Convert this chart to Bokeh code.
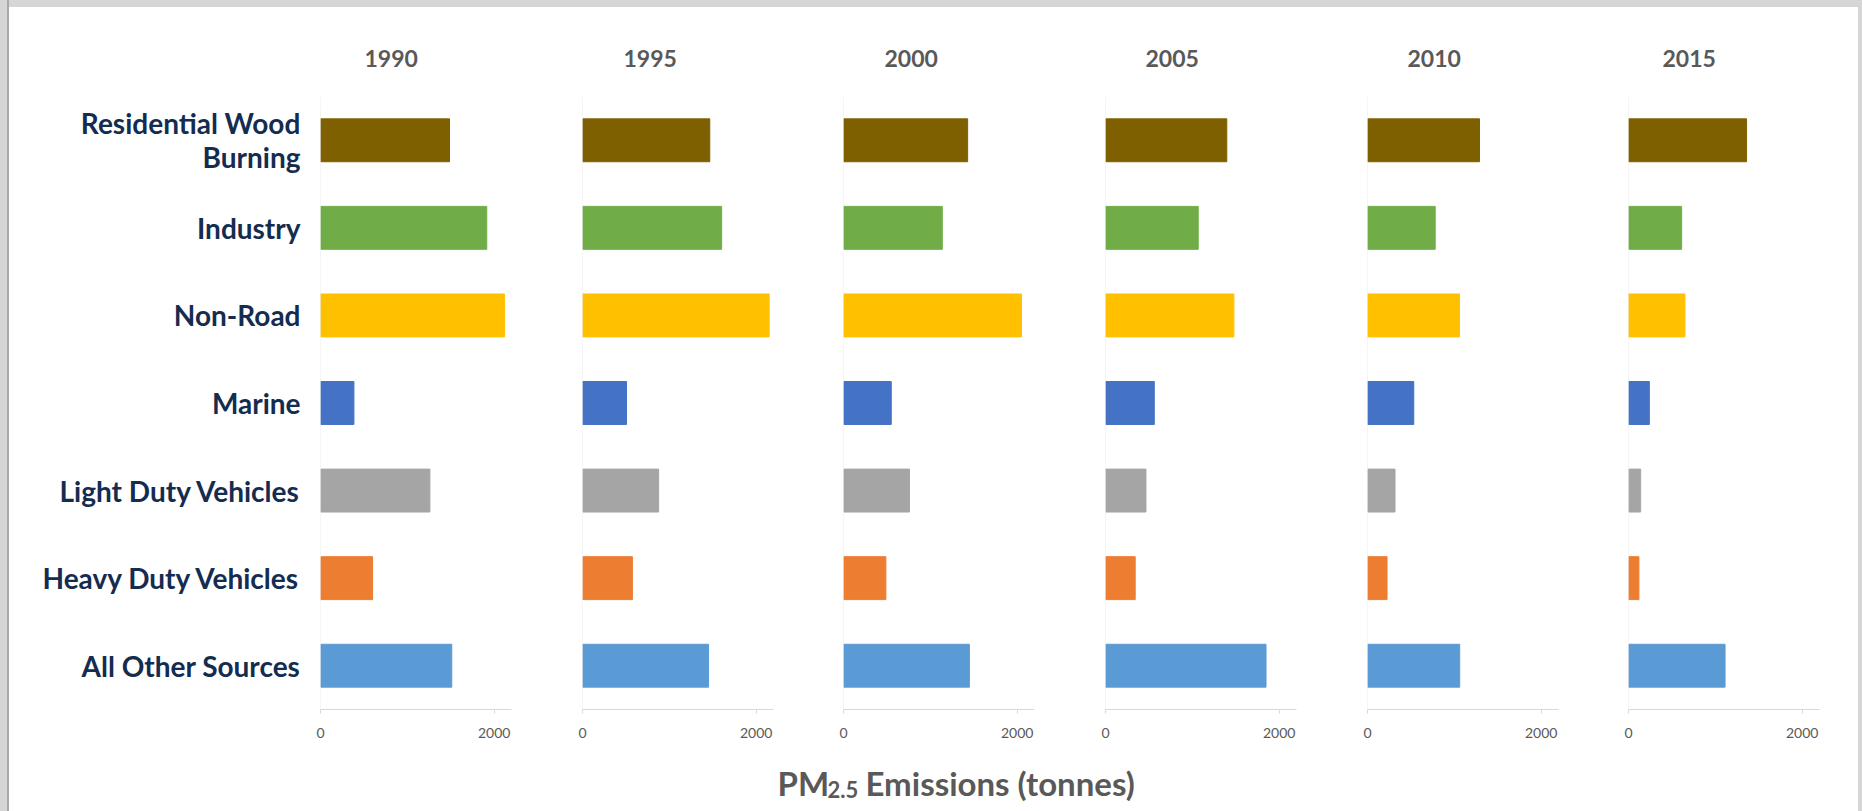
from bokeh.plotting import figure
from bokeh.layouts import row, column
from bokeh.models import ColumnDataSource, FactorRange, Range1d, FixedTicker, Span, Title
from bokeh.embed import file_html
from bokeh.resources import INLINE
from bokeh.core.properties import value

# ---------------- data ----------------
years = ["1990", "1995", "2000", "2005", "2010", "2015"]
categories = ["Residential Wood Burning", "Industry", "Non-Road", "Marine",
              "Light Duty Vehicles", "Heavy Duty Vehicles", "All Other Sources"]
category_labels = ["Residential Wood\nBurning", "Industry", "Non-Road", "Marine",
                   "Light Duty Vehicles", "Heavy Duty Vehicles", "All Other Sources"]
colors = ["#7f6000", "#70ad47", "#ffc000", "#4472c4", "#a5a5a5", "#ed7d31", "#5b9bd5"]

pm_1990 = [1486, 1915, 2120, 385, 1260, 600, 1512]
pm_1995 = [1466, 1603, 2150, 507, 877, 575, 1452]
pm_2000 = [1430, 1138, 2050, 550, 760, 488, 1450]
pm_2005 = [1397, 1068, 1479, 562, 466, 342, 1849]
pm_2010 = [1290, 780, 1060, 533, 317, 225, 1062]
pm_2015 = [1360, 612, 650, 240, 140, 120, 1112]
series = [pm_1990, pm_1995, pm_2000, pm_2005, pm_2010, pm_2015]

x_ticks = [0, 2000]
x_max = 2200
x_label_main = "PM"
x_label_sub = "2.5"
x_label_rest = "Emissions (tonnes)"

# ---------------- style ----------------
FONT = "Lato"
GRAY = "#595959"
NAVY = "#142c50"
FRAME_W = 191
FRAME_H = 613
TOP = 89
BOTTOM = 41
LABEL_W = 299
lefts = [12, 35, 35, 35, 35, 35]
rights = [36, 35, 36, 36, 35, 38]
title_offsets = [44, 41, 41, 40, 40, 34]

factors = list(reversed(categories))
y_range = FactorRange(*factors, range_padding=0)

# ---- left strip with the category names ----
lab_y, lab_txt, lab_off = [], [], []
for cat, lab in zip(categories, category_labels):
    lines = lab.split("\n")
    n = len(lines)
    for k, line in enumerate(lines):
        lab_y.append(cat)
        lab_txt.append(line)
        lab_off.append((k - (n - 1) / 2) * 34)

f0 = figure(width=LABEL_W, height=TOP + FRAME_H + BOTTOM, y_range=y_range,
            x_range=Range1d(0, LABEL_W), output_backend="svg", toolbar_location=None,
            x_axis_location=None, y_axis_location=None,
            min_border_left=0, min_border_right=0, min_border_top=TOP, min_border_bottom=BOTTOM)
f0.grid.visible = False
f0.outline_line_color = None
f0.border_fill_color = "white"
f0.text(x=LABEL_W - 8, y="y", text="t", y_offset="o",
        source=ColumnDataSource(dict(y=lab_y, t=lab_txt, o=lab_off)),
        text_font=value(FONT), text_font_size="28px", text_font_style="bold",
        text_color=NAVY, text_align="right", text_baseline="middle")

figs = [f0]
for i, (yr, vals) in enumerate(zip(years, series)):
    w = lefts[i] + FRAME_W + rights[i]
    p = figure(width=w, height=TOP + FRAME_H + BOTTOM, y_range=y_range,
               x_range=Range1d(0, x_max),
               output_backend="svg", toolbar_location=None,
               min_border_left=lefts[i], min_border_right=rights[i],
               min_border_top=TOP, min_border_bottom=BOTTOM)
    src = ColumnDataSource(dict(cat=categories, val=vals, color=colors))
    p.hbar(y="cat", left=0, right="val", height=0.49, color="color", source=src)
    p.add_layout(Span(location=0, dimension="height", line_color="#ececec", line_width=1))

    t = Title(text=yr, align="left", offset=title_offsets[i], standoff=60,
              text_font=FONT, text_font_size="23px", text_font_style="bold",
              text_color=GRAY)
    p.add_layout(t, "above")

    p.xgrid.visible = False
    p.ygrid.visible = False
    p.outline_line_color = None
    p.background_fill_color = "white"
    p.border_fill_color = "white"

    xa = p.xaxis[0]
    xa.ticker = FixedTicker(ticks=x_ticks)
    xa.axis_line_color = "#d9d9d9"
    xa.major_tick_line_color = "#d9d9d9"
    xa.major_tick_out = 4
    xa.major_tick_in = 0
    xa.minor_tick_line_color = None
    xa.major_label_text_font = FONT
    xa.major_label_text_font_size = "14px"
    xa.major_label_text_color = GRAY
    xa.major_label_standoff = 14

    p.yaxis.visible = False
    figs.append(p)

# bottom strip with the x-axis title
LW, LH = 1849, 61
lab = figure(width=LW, height=LH, x_range=Range1d(0, LW), y_range=Range1d(0, LH),
             output_backend="svg", toolbar_location=None,
             x_axis_location=None, y_axis_location=None,
             min_border_left=0, min_border_right=0, min_border_top=0, min_border_bottom=0)
lab.grid.visible = False
lab.outline_line_color = None
lab.border_fill_color = "white"
x0 = 768
base = 29
lab.text(x=[x0], y=[base], text=[x_label_main], text_font=value(FONT), text_font_size="33px",
         text_font_style="bold", text_color=GRAY, text_align="left", text_baseline="alphabetic")
lab.text(x=[x0 + 50], y=[base - 7], text=[x_label_sub], text_font=value(FONT), text_font_size="22px",
         text_font_style="bold", text_color=GRAY, text_align="left", text_baseline="alphabetic")
lab.text(x=[x0 + 50 + 38], y=[base], text=[x_label_rest], text_font=value(FONT), text_font_size="33px",
         text_font_style="bold", text_color=GRAY, text_align="left", text_baseline="alphabetic")

white = {"background-color": "white"}
layout = column(row(*figs, spacing=0, styles=white), lab, spacing=0, styles=white)

html = file_html(layout, INLINE, title="PM2.5 Emissions")
css = ("<style>html,body{overflow:hidden !important;margin:0 !important;}"
       "body{padding:7px 0 0 9px !important;box-sizing:border-box;"
       "background:linear-gradient(to right,#d6d6d6 0,#d6d6d6 7px,#a9a9a9 7px,#a9a9a9 9px,#d6d6d6 9px) !important;}"
       "</style>")
html = html.replace("</head>", css + "</head>", 1)
open("out.html", "w").write(html)
